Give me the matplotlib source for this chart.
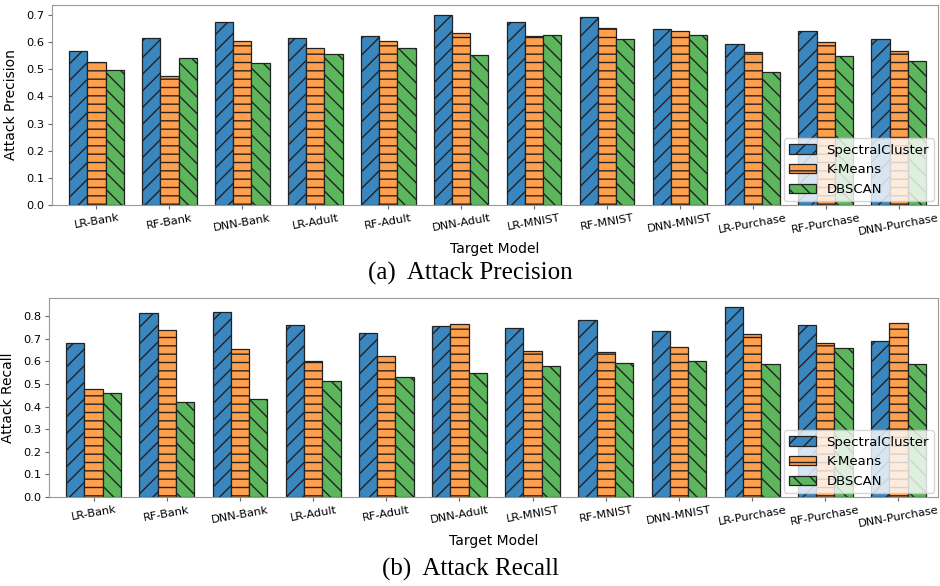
import matplotlib
matplotlib.use("Agg")
import matplotlib.pyplot as plt
import numpy as np


MODELS = [
    "LR-Bank", "RF-Bank", "DNN-Bank",
    "LR-Adult", "RF-Adult", "DNN-Adult",
    "LR-MNIST", "RF-MNIST", "DNN-MNIST",
    "LR-Purchase", "RF-Purchase", "DNN-Purchase",
]
METHODS = ["SpectralCluster", "K-Means", "DBSCAN"]

# attack precision per target model
PREC_SPECTRAL = [0.566, 0.617, 0.673, 0.614, 0.622, 0.702, 0.673, 0.693, 0.650, 0.592, 0.641, 0.610]
PREC_KMEANS = [0.527, 0.477, 0.603, 0.577, 0.606, 0.633, 0.622, 0.651, 0.643, 0.564, 0.599, 0.569]
PREC_DBSCAN = [0.499, 0.540, 0.525, 0.555, 0.577, 0.551, 0.625, 0.613, 0.627, 0.491, 0.550, 0.530]

# attack recall per target model
REC_SPECTRAL = [0.679, 0.812, 0.819, 0.760, 0.724, 0.754, 0.746, 0.782, 0.734, 0.838, 0.759, 0.688]
REC_KMEANS = [0.479, 0.740, 0.656, 0.600, 0.622, 0.765, 0.644, 0.640, 0.665, 0.719, 0.679, 0.768]
REC_DBSCAN = [0.462, 0.419, 0.432, 0.512, 0.532, 0.550, 0.578, 0.591, 0.601, 0.588, 0.659, 0.588]

COLORS = ["#3a87c0", "#ffa04e", "#5cb75c"]
HATCHES = ["//", "--", "\\\\"]
WIDTH = 0.25
W, H = 940, 586


def px_axes(fig, x0, y0, x1, y1):
    # pixel box (top-left origin) -> figure fraction
    return fig.add_axes([x0 / W, 1 - y1 / H, (x1 - x0) / W, (y1 - y0) / H])


def draw_panel(ax, series, ylabel):
    x = np.arange(len(MODELS))
    for i, vals in enumerate(series):
        ax.bar(x + (i - 1) * WIDTH, vals, WIDTH, color=COLORS[i],
               hatch=HATCHES[i], edgecolor="#222222", linewidth=0.9, label=METHODS[i])
    ax.set_xlim(-0.61, 11.54)
    ax.set_xticks(x)
    ax.set_xticklabels(MODELS, rotation=10, fontsize=8.2)
    ax.tick_params(axis="both", labelsize=8.2, length=3, pad=2.5, color="0.4")
    ax.set_xlabel("Target Model", fontsize=10, labelpad=4)
    ax.set_ylabel(ylabel, fontsize=10, labelpad=6)
    for sp in ax.spines.values():
        sp.set_color("0.6")
    ax.legend(loc="lower right", fontsize=9.5, borderaxespad=0.3, framealpha=0.8)


def main():
    fig = plt.figure(figsize=(W / 100, H / 100), dpi=100)

    ax1 = px_axes(fig, 52, 5, 938, 205)
    draw_panel(ax1, [PREC_SPECTRAL, PREC_KMEANS, PREC_DBSCAN], "Attack Precision")
    ax1.set_yticks(np.arange(0, 0.71, 0.1))

    ax2 = px_axes(fig, 49, 298, 938, 497)
    draw_panel(ax2, [REC_SPECTRAL, REC_KMEANS, REC_DBSCAN], "Attack Recall")
    ax2.set_yticks(np.arange(0, 0.81, 0.1))

    fig.text(0.5, 1 - 273 / H, "(a)  Attack Precision", ha="center", va="center",
             fontsize=18, family="Liberation Serif")
    fig.text(0.5, 1 - 569 / H, "(b)  Attack Recall", ha="center", va="center",
             fontsize=18, family="Liberation Serif")

    fig.savefig("out.png", dpi=100)


if __name__ == "__main__":
    main()
